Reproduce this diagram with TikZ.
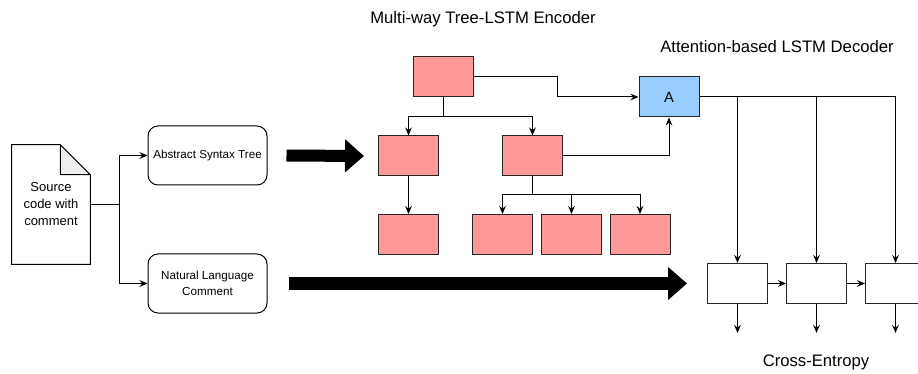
\documentclass[tikz,border=0pt]{standalone}
\usepackage{fontspec}
\setmainfont{Liberation Sans}
\usetikzlibrary{arrows.meta}
\definecolor{pinkbox}{HTML}{FF9999}
\definecolor{bluebox}{HTML}{99CCFF}
\definecolor{foldgray}{HTML}{EEEEEE}
\def\u{0.75pt}
\tikzstyle{t}=[rectangle,draw=black!85,fill=pinkbox,line width=\u,minimum width=60*\u,minimum height=40*\u,inner sep=0pt]
\tikzstyle{att}=[t,fill=bluebox,font=\fontsize{11}{13}\selectfont]
\tikzstyle{d}=[t,fill=white]
\tikzstyle{lbl}=[rectangle,rounded corners=7.5pt,draw,line width=\u,minimum width=119*\u,minimum height=59*\u,inner sep=0pt,align=center,font=\fontsize{8.75}{12}\selectfont]
\tikzstyle{doc}=[minimum width=78*\u,minimum height=119*\u,inner sep=0pt,align=center,font=\fontsize{9.75}{12.75}\selectfont]
\tikzstyle{title}=[inner sep=0pt,font=\fontsize{12.5}{15}\selectfont]
\tikzstyle{conn}=[line width=\u,-{Stealth[length=6pt,width=5pt,inset=2pt]}]
\tikzstyle{big}=[line width=9pt,-{Triangle[length=14.25pt,width=24pt]}]

\begin{document}
\begin{tikzpicture}[x=\u,y=-\u]
	\useasboundingbox (0,0) rectangle (918,374);
	\node[title](enc) at (483,19){Multi-way Tree-LSTM Encoder};
	\node[title](dec) at (777,47){Attention-based LSTM Decoder};
	\node[title](ce) at (816,362){Cross-Entropy};
	\node[doc](src) at (51,204.5){Source\\code with\\comment};
	\draw[line width=\u](src.north west)--([xshift=-22.5pt]src.north east)--([yshift=-22.5pt]src.north east)--(src.south east)--(src.south west)--cycle;
	\draw[line width=\u,fill=foldgray]([xshift=-22.5pt]src.north east)--([xshift=-22.5pt,yshift=-22.5pt]src.north east)--([yshift=-22.5pt]src.north east)--cycle;
	\node[lbl](ast) at (207.5,155.5){Abstract Syntax Tree};
	\node[lbl](nl) at (207.5,283.5){Natural Language\\Comment};
	\coordinate (s) at (119,204.5);
	\draw[line width=\u](src.east)--(s);
	\draw[conn](s)|-(ast);
	\draw[conn](s)|-(nl);
	\node[t](root) at (443,77){};
	\node[t](c1) at (408.5,156){};
	\node[t](c2) at (532.5,156){};
	\node[t](l1) at (408.5,234.5){};
	\foreach \i/\x in {2/502.5,3/571.5,4/640}
		\node[t](l\i) at (\x,234.5){};
	\node[att](A) at (669,97){A};
	\foreach \i/\x in {1/737.5,2/816.5,3/895.5}
		\node[d](d\i) at (\x,283.5){};
	\draw[big]([xshift=14.25pt]ast.east)--([xshift=-10.5pt]c1.west);
	\draw[big]([xshift=15.75pt]nl.east)--([xshift=-15pt]d1.west);
	\coordinate (rj) at (443,117);
	\coordinate (cj) at (532.5,195);
	\draw[line width=\u](root)--(rj);
	\draw[conn](rj)-|(c1);
	\draw[conn](rj)-|(c2);
	\draw[conn](c1)--(l1);
	\draw[line width=\u](c2)--(cj);
	\foreach \i in {2,3,4}
		\draw[conn](cj)-|(l\i);
	\draw[conn](root.east)--++(84,0)|-(A);
	\draw[conn](c2)-|(A);
	\draw[line width=\u](A.east)--(A-|d3);
	\foreach \i in {1,2,3}{
		\draw[conn](A-|d\i)--(d\i);
		\coordinate (o\i) at ([yshift=-21.75pt]d\i.south);
		\draw[conn](d\i)--(o\i);
	}
	\draw[conn](d1)--(d2);
	\draw[conn](d2)--(d3);
\end{tikzpicture}
\end{document}
